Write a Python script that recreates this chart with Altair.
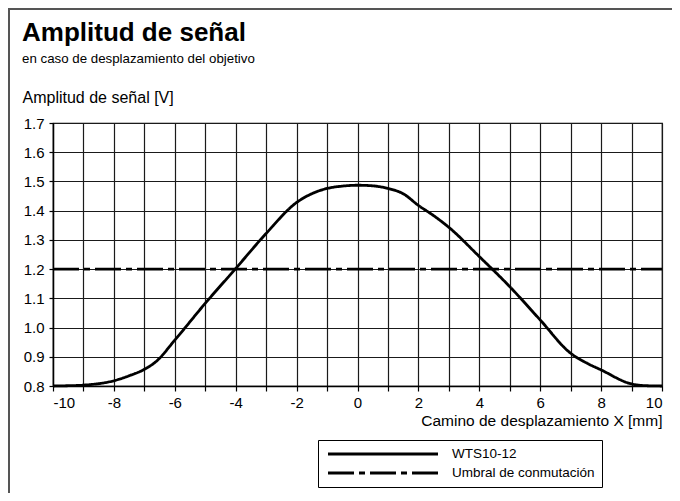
import altair as alt
import pandas as pd

# ---- data ----
x_curve = [-10, -9.5, -9, -8, -7.5, -7, -6.6, -6, -5, -4, -3, -2, -1.5, -1, -0.5, 0,
           0.5, 1, 1.5, 2, 2.5, 3, 4, 5, 6, 7, 7.5, 8, 9, 9.5, 10]
y_curve = [0.800, 0.801, 0.803, 0.818, 0.835, 0.857, 0.885, 0.957, 1.083, 1.202, 1.322,
           1.428, 1.458, 1.476, 1.484, 1.487, 1.485, 1.476, 1.458, 1.418, 1.383, 1.343,
           1.243, 1.140, 1.026, 0.912, 0.880, 0.855, 0.807, 0.801, 0.800]
x_threshold = [-10, 10]
y_threshold = [1.2, 1.2]
series_names = ["WTS10-12", "Umbral de conmutación"]
x_ticks = list(range(-10, 11))
y_ticks = [0.8, 0.9, 1.0, 1.1, 1.2, 1.3, 1.4, 1.5, 1.6, 1.7]

df = pd.concat([
    pd.DataFrame({"x": x_curve, "y": y_curve, "series": series_names[0]}),
    pd.DataFrame({"x": x_threshold, "y": y_threshold, "series": series_names[1]}),
], ignore_index=True)

FONT = "Liberation Sans"
W, H = 609, 263

dash_scale = alt.Scale(domain=series_names, range=[[1, 0], [26, 5, 6, 5]])

lines = alt.Chart(df).mark_line(interpolate="monotone", color="black", strokeWidth=2.8).encode(
    x=alt.X("x:Q",
            scale=alt.Scale(domain=[-10, 10], nice=False),
            axis=alt.Axis(values=x_ticks,
                          labelExpr="datum.value % 2 == 0 ? '' + datum.value : ''",
                          title="Camino de desplazamiento X [mm]",
                          titleAlign="right", titleAnchor="end", titleX=W, titleY=39,
                          titleBaseline="alphabetic", titleFontSize=15.5)),
    y=alt.Y("y:Q",
            scale=alt.Scale(domain=[0.8, 1.7], nice=False, zero=False),
            axis=alt.Axis(values=y_ticks, format=".1f",
                          title="Amplitud de señal [V]",
                          titleAngle=0, titleAlign="left", titleBaseline="alphabetic",
                          titleX=-31, titleY=-21, titleFontSize=16)),
    strokeDash=alt.StrokeDash("series:N", scale=dash_scale, sort=series_names,
                              legend=alt.Legend(title=None, orient="none",
                                                legendX=265, legendY=317,
                                                symbolType="M-10,0H10", symbolSize=121,
                                                symbolStrokeWidth=2.8,
                                                symbolStrokeColor="black",
                                                symbolOffset=51,
                                                labelFontSize=13.5, labelColor="black",
                                                labelFont=FONT, labelOffset=62,
                                                strokeColor="black", padding=7,
                                                rowPadding=5)),
)

frame_top = alt.Chart(df).mark_rule(color="#555555", strokeWidth=2).encode(
    x=alt.value(-46), x2=alt.value(W + 11), y=alt.value(-114))
frame_left = alt.Chart(df).mark_rule(color="#555555", strokeWidth=2).encode(
    x=alt.value(-44), y=alt.value(-115), y2=alt.value(H + 110))

chart = alt.layer(lines, frame_top, frame_left).properties(
    width=W, height=H,
    autosize=alt.AutoSizeParams(type="none"),
    padding={"left": 45, "top": 115, "right": 10, "bottom": 107},
    title=alt.Title("Amplitud de señal",
                    subtitle="en caso de desplazamiento del objetivo",
                    anchor="start", frame="group", dx=-31, dy=62,
                    font=FONT, fontSize=26, fontWeight="bold", color="black",
                    subtitleFont=FONT, subtitleFontSize=13.3, subtitleColor="black",
                    subtitlePadding=6),
).configure_view(stroke="black", strokeWidth=1.2).configure_axis(
    grid=True, gridColor="#1a1a1a", gridWidth=1.2, gridOpacity=1,
    domainColor="black", domainWidth=1.4,
    tickColor="black", tickWidth=1.2,
    labelFont=FONT, labelFontSize=15, labelColor="black",
    titleFont=FONT, titleFontSize=15, titleColor="black", titleFontWeight="normal",
).configure_axisX(
    tickSize=5, labelPadding=4,
).configure_axisY(
    tickSize=4, labelPadding=5,
)

chart.save("out.html", embed_options={"renderer": "svg", "actions": False})
